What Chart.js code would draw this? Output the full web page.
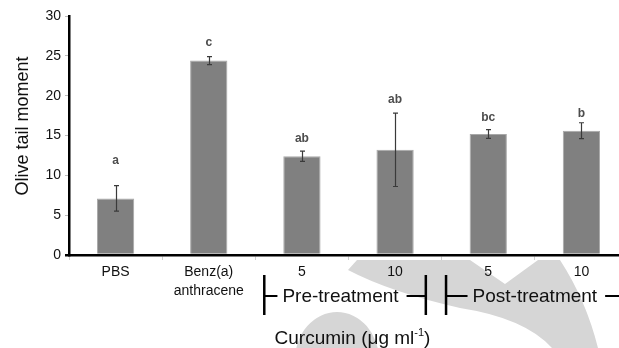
<!DOCTYPE html>
<html>
<head>
<meta charset="utf-8">
<script src="https://cdn.jsdelivr.net/npm/chart.js@4.4.0/dist/chart.umd.min.js"></script>
<style>
  html, body { margin: 0; padding: 0; background: #fff; overflow: hidden; }
  #wrap { width: 619px; height: 348px; overflow: hidden; }
</style>
</head>
<body>
<div id="wrap"><canvas id="chart" width="630" height="348"></canvas></div>
<script>
// values
const categories = ['PBS', ['Benz(a)', 'anthracene'], '5', '10', '5', '10'];
const tailMoment = [7.1, 24.4, 12.4, 13.2, 15.2, 15.6];
const tailError = [1.6, 0.5, 0.65, 4.6, 0.55, 1.0];
const sigLetters = ['a', 'c', 'ab', 'ab', 'bc', 'b'];
const letterLevel = [11.8, 26.7, 14.6, 19.5, 17.2, 17.8];
const yTicks = [0, 5, 10, 15, 20, 25, 30];
const groupNames = ['Pre-treatment', 'Post-treatment'];
const groupMembers = [[2, 3], [4, 5]];

const family = '"Liberation Sans", Arial, sans-serif';

const extras = {
  id: 'extras',
  beforeDraw(chart) {
    // light grey watermark behind the chart
    const ctx = chart.ctx;
    ctx.save();
    ctx.fillStyle = '#d6d6d6';
    ctx.beginPath();
    ctx.moveTo(357, 260);
    ctx.lineTo(470, 260);
    ctx.lineTo(505, 284);
    ctx.lineTo(538, 260);
    ctx.lineTo(560, 260);
    ctx.quadraticCurveTo(586, 300, 598, 348);
    ctx.lineTo(552, 348);
    ctx.quadraticCurveTo(525, 318, 460, 308);
    ctx.quadraticCurveTo(390, 292, 348, 270);
    ctx.closePath();
    ctx.fill();
    ctx.beginPath();
    ctx.ellipse(337, 360, 42, 48, 0, 0, Math.PI * 2);
    ctx.fill();
    ctx.restore();
  },
  afterDatasetsDraw(chart) {
    const { ctx, scales: { x, y } } = chart;
    ctx.save();
    // error bars
    ctx.strokeStyle = '#3a3a3a';
    ctx.lineWidth = 1.2;
    tailMoment.forEach((v, i) => {
      const px = Math.round(x.getPixelForValue(i)) + 0.5;
      const top = y.getPixelForValue(v + tailError[i]);
      const bot = y.getPixelForValue(v - tailError[i]);
      ctx.beginPath();
      ctx.moveTo(px, top); ctx.lineTo(px, bot);
      ctx.moveTo(px - 2.5, top); ctx.lineTo(px + 2.5, top);
      ctx.moveTo(px - 2.5, bot); ctx.lineTo(px + 2.5, bot);
      ctx.stroke();
    });
    // significance letters
    ctx.fillStyle = '#4d4d4d';
    ctx.font = 'bold 12px ' + family;
    ctx.textAlign = 'center';
    ctx.textBaseline = 'middle';
    sigLetters.forEach((s, i) => {
      ctx.fillText(s, x.getPixelForValue(i), y.getPixelForValue(letterLevel[i]));
    });
    ctx.restore();
  },
  afterDraw(chart) {
    const { ctx, scales: { x } } = chart;
    const step = x.getPixelForValue(1) - x.getPixelForValue(0);
    ctx.save();
    ctx.fillStyle = '#111';
    ctx.strokeStyle = '#000';

    // y axis title
    ctx.save();
    ctx.translate(28, 126);
    ctx.rotate(-Math.PI / 2);
    ctx.font = '18px ' + family;
    ctx.textAlign = 'center';
    ctx.textBaseline = 'alphabetic';
    ctx.fillText('Olive tail moment', 0, 0);
    ctx.restore();

    // treatment brackets
    const inset = [[0.404, 0.33], [0.453, 0.42]];
    const shift = [-8, 0];
    ctx.font = '19px ' + family;
    ctx.textAlign = 'center';
    ctx.textBaseline = 'alphabetic';
    groupMembers.forEach((m, g) => {
      const a = x.getPixelForValue(m[0]);
      const b = x.getPixelForValue(m[1]);
      const left = a - inset[g][0] * step;
      const right = b + inset[g][1] * step;
      const cx = (a + b) / 2 + shift[g];
      const w = ctx.measureText(groupNames[g]).width;
      ctx.fillText(groupNames[g], cx, 301.5);
      ctx.lineWidth = 2.5;
      ctx.beginPath();
      ctx.moveTo(left, 275); ctx.lineTo(left, 315);
      ctx.moveTo(right, 275); ctx.lineTo(right, 315);
      ctx.stroke();
      ctx.lineWidth = 2;
      ctx.beginPath();
      ctx.moveTo(left, 296); ctx.lineTo(cx - w / 2 - 5, 296);
      ctx.moveTo(cx + w / 2 + 8, 296); ctx.lineTo(right, 296);
      ctx.stroke();
    });

    // x axis title with superscript
    const main = 'Curcumin (\u03bcg ml';
    const sup = '-1';
    const tail = ')';
    ctx.textAlign = 'left';
    ctx.font = '19px ' + family;
    const w1 = ctx.measureText(main).width;
    const w3 = ctx.measureText(tail).width;
    ctx.font = '11px ' + family;
    const w2 = ctx.measureText(sup).width;
    let sx = 352.5 - (w1 + w2 + w3) / 2;
    ctx.font = '19px ' + family;
    ctx.fillText(main, sx, 344);
    sx += w1;
    ctx.font = '11px ' + family;
    ctx.fillText(sup, sx, 336);
    sx += w2;
    ctx.font = '19px ' + family;
    ctx.fillText(tail, sx, 344);
    ctx.restore();
  }
};

new Chart(document.getElementById('chart'), {
  type: 'bar',
  data: {
    labels: categories,
    datasets: [{
      data: tailMoment,
      backgroundColor: '#808080',
      borderColor: '#a8a8a8',
      borderWidth: 1,
      barPercentage: 0.4,
      categoryPercentage: 1
    }]
  },
  options: {
    responsive: false,
    animation: false,
    devicePixelRatio: 1,
    layout: { padding: { top: 16, right: 2, bottom: 0, left: 0 } },
    plugins: { legend: { display: false }, tooltip: { enabled: false } },
    scales: {
      x: {
        grid: { drawOnChartArea: false, tickLength: 5, color: '#cfcfcf', lineWidth: 1 },
        border: { color: '#000', width: 2.5 },
        ticks: {
          color: '#111',
          font: { family: family, size: 14, lineHeight: 1.4 },
          padding: 2,
          maxRotation: 0,
          autoSkip: false
        },
        afterFit(s) { s.height = 93; }
      },
      y: {
        min: 0,
        max: 30,
        afterBuildTicks(s) { s.ticks = yTicks.map(v => ({ value: v })); },
        grid: {
          drawOnChartArea: false,
          tickLength: 4,
          color: c => (c.tick && c.tick.value === 0 ? '#000' : '#bbb'),
          lineWidth: c => (c.tick && c.tick.value === 0 ? 2.5 : 1)
        },
        border: { color: '#000', width: 2.5 },
        ticks: { color: '#111', font: { family: family, size: 14 }, padding: 4 },
        afterFit(s) { s.width = 69; }
      }
    }
  },
  plugins: [extras]
});
</script>
</body>
</html>
